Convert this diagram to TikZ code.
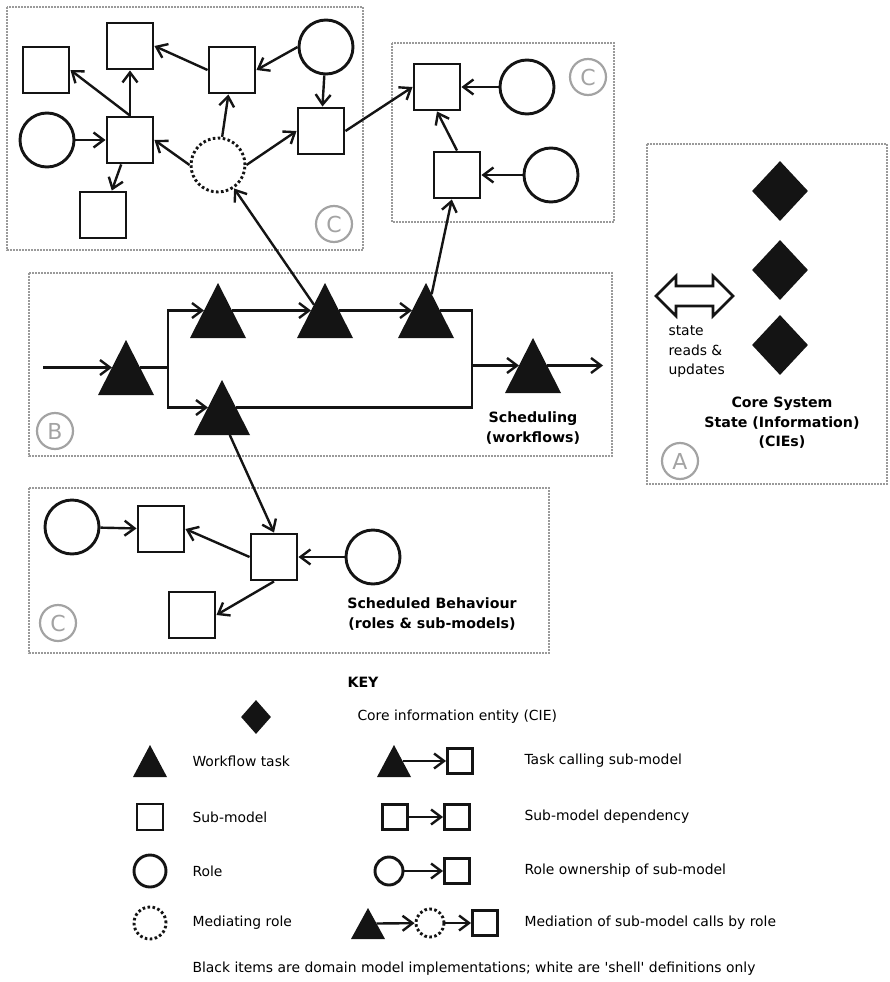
\documentclass[tikz,border=0pt]{standalone}
\usepackage{fontspec}
\setmainfont{DejaVu Sans}
\usepackage{tikz}
\usetikzlibrary{shapes,arrows.meta,positioning,calc}
\definecolor{framegrey}{HTML}{9A9A9A}
\definecolor{taggrey}{HTML}{A3A3A3}
\definecolor{ink}{HTML}{141414}

\begin{document}
\begin{tikzpicture}[x=1pt, y=-1pt, font=\fontsize{13.9}{19}\selectfont,
  region/.style={draw=framegrey, line width=2pt, dash pattern=on 1.6pt off 1.4pt},
  tag/.style={circle, draw=taggrey, line width=2.2pt, text=taggrey, minimum size=36pt, inner sep=0pt, font=\fontsize{22}{22}\selectfont},
  submodel/.style={draw=ink, line width=2.9pt, fill=white, minimum size=46pt, inner sep=0pt},
  role/.style={circle, draw=ink, line width=2.9pt, fill=white, minimum size=54pt, inner sep=0pt},
  mediator/.style={role, dash pattern=on 2.6pt off 2.4pt},
  task/.style={isosceles triangle, isosceles triangle stretches, shape border rotate=90, fill=ink, minimum width=56pt, minimum height=55pt, inner sep=0pt, outer sep=0pt, anchor=apex},
  cie/.style={diamond, fill=ink, minimum width=56pt, minimum height=60pt, inner sep=0pt},
  link/.style={-{Straight Barb[length=10pt,width=15pt]}, line width=2.4pt, draw=ink},
  plain/.style={line width=2.4pt, draw=ink},
  heading/.style={font=\fontsize{14.2}{19.5}\selectfont\bfseries, align=center},
  keytext/.style={anchor=west}]
  \useasboundingbox (0,0) rectangle (890,982);

  % sub-model clusters
  \draw[region] (7,7) rectangle (363,250);
  \node[tag] (tagtl) at (334,224) {C};
  \node[submodel] (sq1) at (46,70) {};
  \node[submodel] (sq2) at (130,46) {};
  \node[submodel] (sq3) at (232,70) {};
  \node[role] (rtop) at (326,47) {};
  \node[role] (lrole) at (47,140) {};
  \node[submodel] (hub) at (130,140) {};
  \node[submodel] (sqr) at (321,131) {};
  \node[mediator] (med) at (218,165) {};
  \node[submodel] (sqbot) at (103,215) {};

  \draw[region] (392,43) rectangle (614,222);
  \node[tag] (tagtr) at (588,77) {C};
  \node[submodel] (sqa) at (437,87) {};
  \node[role] (rolea) at (527,87) {};
  \node[submodel] (sqb) at (457,175) {};
  \node[role] (roleb) at (551,175) {};

  \draw[region] (29,488) rectangle (549,653);
  \node[tag] (tagbc) at (58,623) {C};
  \node[role] (lrole2) at (72,527) {};
  \node[submodel] (sqc) at (161,529) {};
  \node[submodel] (hub2) at (274,557) {};
  \node[submodel] (sqd) at (192,615) {};
  \node[role] (rrole2) at (373,557) {};
  \node[heading] (behav) at (432,614) {Scheduled Behaviour\\(roles \& sub-models)};

  % core state
  \draw[region] (647,144) rectangle (887,484);
  \node[tag] (taga) at (680,461) {A};
  \node[cie] (cie1) at (780,191) {};
  \node[cie] (cie2) at (780,270) {};
  \node[cie] (cie3) at (780,345) {};
  \draw[draw=ink, line width=2.6pt, fill=white] (656,296) -- (676,276) -- (676,286) -- (713,286) -- (713,276) -- (733,296)
    -- (713,316) -- (713,306) -- (676,306) -- (676,316) -- cycle;
  \node[align=left, anchor=west, font=\fontsize{13.9}{19.5}\selectfont] (rwtext) at (665,352) {state\\reads \&\\updates};
  \node[heading] (state) at (782,423) {Core System\\State (Information)\\(CIEs)};

  % workflow
  \draw[region] (29,273) rectangle (612,456);
  \node[tag] (tagb) at (55,431) {B};
  \node[task] (t1) at (126,340) {};
  \node[task] (t2) at (218,283) {};
  \node[task] (t3) at (325,283) {};
  \node[task] (t4) at (426,283) {};
  \node[task] (t5) at (222,380) {};
  \node[task] (t6) at (533,338) {};
  \node[heading] (sched) at (533,428) {Scheduling\\(workflows)};
  \coordinate (src) at (43,367);
  \coordinate (fork) at (168,367);
  \coordinate (join) at (472,367);
  \coordinate (sink) at (603,366);

  \draw[link] (t1.left side -| src) -- (t1.left side);
  \draw[plain] (t1.right side) -- (t1.right side -| fork);
  \draw[link] (t1.right side -| fork) |- (t2.left side);
  \draw[link] (t1.right side -| fork) |- (t5.left side);
  \draw[link] (t2.right side) -- (t3.left side);
  \draw[link] (t3.right side) -- (t4.left side);
  \draw[plain] (t4.right side) -| (join) |- (t5.right side);
  \draw[link] (t6.left side -| join) -- (t6.left side);
  \draw[link] (t6.right side) -- (t6.right side -| sink);

  % calls and dependencies
  \draw[link] (hub.north) -- (sq1.east);
  \draw[link] (hub) -- (sq2);
  \draw[link] (sq3.west) -- (sq2.east);
  \draw[link] (rtop.west) -- (sq3.east);
  \draw[link] (rtop) -- (sqr);
  \draw[link] (lrole) -- (hub);
  \draw[link] (med.west) -- (hub.east);
  \draw[link] (med) -- (sq3);
  \draw[link] (med.east) -- (sqr.west);
  \draw[link] (hub) -- (sqbot);
  \draw[link] (sqr.east) -- (sqa.west);
  \draw[link] (rolea) -- (sqa);
  \draw[link] (roleb) -- (sqb);
  \draw[link] (sqb.north) -- (sqa.south);
  \draw[link] (t3) -- (med);
  \draw[link] (t4) -- (sqb);
  \draw[link] (t5) -- (hub2.north);
  \draw[link] (lrole2) -- (sqc);
  \draw[link] (hub2.west) -- (sqc.east);
  \draw[link] (hub2.south) -- (sqd.east);
  \draw[link] (rrole2) -- (hub2);

  % key
  \node[font=\fontsize{14.2}{18}\selectfont\bfseries] (key) at (363,682) {KEY};
  \node[cie, minimum width=30pt, minimum height=34pt] (kcie) at (256,717) {};
  \node[keytext] at (354,717) {Core information entity (CIE)};
  \node[task, minimum width=34pt, minimum height=32pt] (ktask) at (150,745) {};
  \node[keytext] at (189,761) {Workflow task};
  \node[submodel, minimum size=26pt] (ksub) at (150,817) {};
  \node[keytext] at (189,817) {Sub-model};
  \node[role, minimum size=32pt] (krole) at (150,871) {};
  \node[keytext] at (189,871) {Role};
  \node[mediator, minimum size=32pt] (kmed) at (150,923) {};
  \node[keytext] at (189,923) {Mediating role};

  \node[task, minimum width=34pt, minimum height=32pt] (kt1) at (394,745) {};
  \node[submodel, minimum size=25pt] (ks1) at (460,761) {};
  \draw[link] (kt1.right side) -- (ks1.west);
  \node[keytext] at (521,761) {Task calling sub-model};
  \node[submodel, minimum size=25pt] (ks2a) at (395,817) {};
  \node[submodel, minimum size=25pt] (ks2b) at (457,817) {};
  \draw[link] (ks2a) -- (ks2b);
  \node[keytext] at (521,817) {Sub-model dependency};
  \node[role, minimum size=28pt] (kr3) at (389,871) {};
  \node[submodel, minimum size=25pt] (ks3) at (457,871) {};
  \draw[link] (kr3) -- (ks3);
  \node[keytext] at (521,871) {Role ownership of sub-model};
  \node[task, minimum width=34pt, minimum height=31pt] (kt4) at (368,908) {};
  \node[mediator, minimum size=28pt] (km4) at (430,923) {};
  \node[submodel, minimum size=25pt] (ks4) at (485,923) {};
  \draw[link] (kt4.right side) -- (km4);
  \draw[link] (km4) -- (ks4);
  \node[keytext] at (521,923) {Mediation of sub-model calls by role};

  \node (note) at (474,969) {Black items are domain model implementations; white are {\textquotesingle}shell{\textquotesingle} definitions only};
\end{tikzpicture}
\end{document}
